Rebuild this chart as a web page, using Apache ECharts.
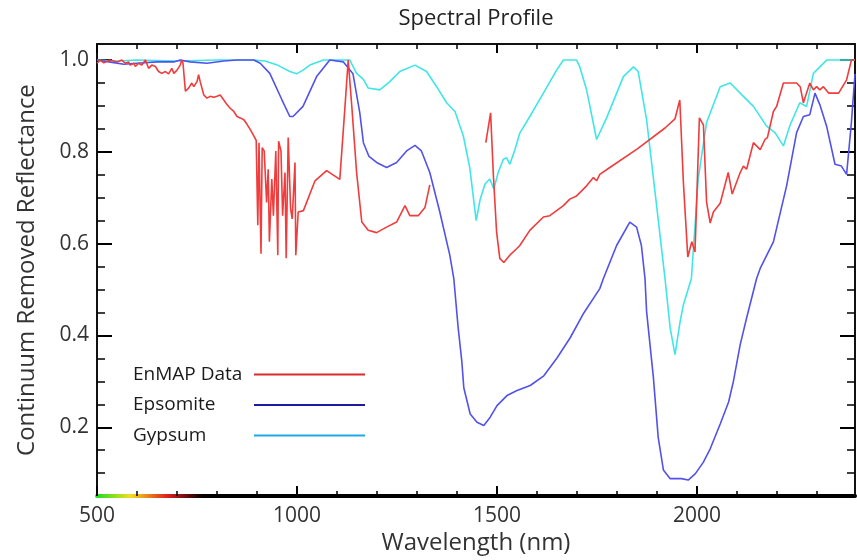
<!DOCTYPE html>
<html>
<head>
<meta charset="utf-8">
<script src="https://cdn.jsdelivr.net/npm/echarts@6/dist/echarts.min.js"></script>
<style>html,body{margin:0;padding:0;background:#fff}#c{width:857px;height:560px}</style>
</head>
<body>
<div id="c"></div>
<script>
// ---- data ----
const seriesNames = ['EnMAP Data', 'Epsomite', 'Gypsum'];

const enmapWl = [500,508,517,533,550,562,571,579,583,592,596,604,612,621,625,629,637,646,654,662,671,679,687,692,700,708,712,715,721,729,737,742,750,754,758,767,775,783,792,800,808,817,825,833,842,850,858,867,875,883,892,898,
  902,905,910,913,918,924,928,931,937,941,947,952,954,960,964,970,973,978,984,988,995,997,1003,1016,1045,1074,1090,1107,1120,1128,1137,1149,1162,1178,1199,1224,1249,1270,1282,1303,1320,1332,
  1400,
  1472,1484,1491,1499,1507,1517,1532,1549,1557,1582,1616,1632,1666,1682,1699,1724,1741,1749,1757,1782,1850,1920,1945,1957,1966,1977,1987,1995,2006,2016,2024,2033,2041,2058,2078,2088,2108,2116,2124,2141,2158,2170,2176,2191,2199,2216,2249,2258,2266,2282,2291,2299,2307,2316,2329,2354,2374,2386,2395];
const enmapVal = [0.993,1.0,0.994,1.0,0.996,1.0,0.993,0.996,0.989,0.993,0.986,0.993,0.989,1.0,1.0,0.982,0.989,0.986,0.975,0.971,0.975,0.970,0.982,0.971,0.978,0.989,1.0,0.993,0.932,0.939,0.950,0.942,0.953,0.968,0.953,0.924,0.917,0.921,0.919,0.921,0.924,0.913,0.903,0.895,0.888,0.877,0.874,0.870,0.860,0.849,0.835,0.825,
  0.640,0.820,0.578,0.809,0.802,0.690,0.762,0.604,0.741,0.661,0.802,0.575,0.823,0.802,0.661,0.755,0.568,0.831,0.676,0.654,0.777,0.575,0.669,0.672,0.737,0.759,0.750,0.740,0.899,1.0,0.899,0.755,0.647,0.629,0.624,0.636,0.647,0.683,0.661,0.661,0.679,0.728,
  null,
  0.820,0.885,0.748,0.625,0.568,0.559,0.575,0.589,0.596,0.629,0.658,0.661,0.683,0.697,0.704,0.726,0.744,0.737,0.751,0.766,0.806,0.852,0.872,0.913,0.733,0.571,0.604,0.582,0.874,0.859,0.690,0.645,0.669,0.688,0.755,0.708,0.755,0.769,0.762,0.820,0.805,0.827,0.831,0.888,0.899,0.950,0.950,0.942,0.907,0.950,0.935,0.942,0.935,0.942,0.928,0.928,0.957,1.0,1.0];

const epsomiteWl = [500,530,567,600,650,692,708,733,775,817,850,892,908,932,962,982,990,1015,1049,1082,1116,1140,1157,1166,1180,1199,1224,1249,1274,1295,1311,1332,1357,1382,1392,1403,1412,1417,1433,1450,1467,1483,1500,1525,1550,1583,1617,1650,1683,1717,1757,1766,1799,1832,1849,1861,1870,1874,1891,1903,1916,1933,1961,1978,1996,2016,2033,2058,2079,2091,2108,2124,2149,2158,2191,2224,2249,2266,2282,2295,2307,2324,2345,2361,2374,2386,2395];
const epsomiteVal = [1.0,0.996,0.991,0.993,0.996,0.996,1.0,0.996,0.993,0.998,1.0,1.0,0.993,0.971,0.914,0.877,0.877,0.899,0.964,1.0,0.996,0.970,0.885,0.820,0.790,0.777,0.766,0.777,0.802,0.814,0.802,0.755,0.669,0.575,0.524,0.416,0.344,0.286,0.229,0.211,0.204,0.222,0.247,0.269,0.280,0.291,0.312,0.351,0.395,0.449,0.502,0.524,0.596,0.647,0.636,0.596,0.524,0.452,0.308,0.178,0.107,0.088,0.088,0.085,0.099,0.124,0.153,0.207,0.255,0.300,0.380,0.438,0.524,0.546,0.604,0.726,0.842,0.877,0.881,0.928,0.903,0.856,0.773,0.769,0.751,0.864,0.970];

const gypsumWl = [500,550,600,700,800,892,920,949,982,999,1015,1032,1066,1132,1149,1166,1178,1207,1232,1257,1295,1324,1349,1374,1395,1416,1432,1448,1458,1470,1482,1492,1503,1516,1524,1532,1545,1557,1582,1616,1649,1666,1699,1707,1724,1749,1774,1816,1841,1853,1874,1899,1920,1933,1945,1958,1966,1986,2003,2024,2058,2083,2116,2141,2174,2195,2216,2233,2257,2274,2291,2324,2395];
const gypsumVal = [1.0,0.998,1.0,0.998,1.0,1.0,0.998,0.990,0.975,0.970,0.978,0.989,1.0,1.0,0.971,0.958,0.939,0.935,0.953,0.975,0.989,0.975,0.942,0.907,0.888,0.834,0.765,0.650,0.697,0.730,0.741,0.719,0.755,0.784,0.787,0.773,0.805,0.841,0.877,0.928,0.978,1.0,1.0,0.985,0.935,0.827,0.874,0.964,0.985,0.975,0.870,0.683,0.524,0.416,0.358,0.431,0.467,0.524,0.741,0.864,0.942,0.950,0.921,0.899,0.856,0.842,0.813,0.859,0.907,0.899,0.971,1.0,1.0];

const xTicks = [500, 1000, 1500, 2000];
const xMinorTicks = [600,700,800,900,1100,1200,1300,1400,1600,1700,1800,1900,2100,2200,2300];
const yTicks = [0.2, 0.4, 0.6, 0.8, 1.0];
const yMinorTicks = [0.1,0.15,0.25,0.3,0.35,0.45,0.5,0.55,0.65,0.7,0.75,0.85,0.9,0.95];

// ---- chart ----
const zip = (a, b) => a.map((v, i) => [v, b[i]]);
const X_MIN = 500, X_MAX = 2395, Y_MIN = 0.05, Y_MAX = 1.035;
const FONT = 'Open Sans';
const lineColors = ['#f03c3c', '#5252ea', '#40e6e6'];
const legendColors = ['#d92b2b', '#1c1c9c', '#1ea8e6'];

const chart = echarts.init(document.getElementById('c'), null, {renderer: 'canvas'});

const baseAxis = (extra) => Object.assign({
  type: 'value', splitLine: {show: false}, axisLabel: {show: false},
  axisLine: {show: false}, axisTick: {show: false}
}, extra);

const option = {
  backgroundColor: '#fff',
  animation: false,
  title: {
    text: 'Spectral Profile', left: 476, top: 8, padding: 0, textAlign: 'center',
    textStyle: {fontFamily: FONT, fontSize: 22, fontWeight: 'normal', color: '#222'}
  },
  grid: {left: 97, right: 2, top: 44, bottom: 61, containLabel: false},
  legend: {
    orient: 'vertical', left: 133, top: 365, align: 'right', padding: 0,
    icon: 'rect', itemWidth: 111, itemHeight: 2, itemGap: 11.5,
    formatter: n => '{a|' + n + '}',
    textStyle: {fontFamily: FONT, fontSize: 19, color: '#1a1a1a',
      rich: {a: {width: 116, align: 'left', fontFamily: FONT, fontSize: 19, lineHeight: 21, color: '#1a1a1a'}}},
    data: seriesNames.map((n, i) => ({name: n, itemStyle: {color: legendColors[i]}}))
  },
  xAxis: [
    baseAxis({
      min: X_MIN, max: X_MAX, position: 'bottom',
      name: 'Wavelength (nm)', nameLocation: 'middle', nameGap: 31,
      nameTextStyle: {fontFamily: FONT, fontSize: 24, color: '#333'},
      axisLine: {show: true, onZero: false, lineStyle: {width: 4, color: new echarts.graphic.LinearGradient(97, 0, 855, 0, [
        {offset: 0, color: '#22dd22'}, {offset: 0.044, color: '#f0e020'}, {offset: 0.092, color: '#e02020'}, {offset: 0.14, color: '#000'}, {offset: 1, color: '#000'}
      ], true)}},
      axisTick: {show: true, inside: true, length: 10, customValues: xTicks, lineStyle: {color: '#000', width: 2}},
      axisLabel: {show: true, customValues: xTicks, margin: 9, fontFamily: FONT, fontSize: 21, color: '#333',
        formatter: v => String(v)}
    }),
    baseAxis({min: X_MIN, max: X_MAX, position: 'bottom',
      axisTick: {show: true, inside: true, length: 5, customValues: xMinorTicks, lineStyle: {color: '#000', width: 1.5}}}),
    baseAxis({min: X_MIN, max: X_MAX, position: 'top',
      axisLine: {show: true, onZero: false, lineStyle: {color: '#111', width: 2}},
      axisTick: {show: true, inside: true, length: 9, customValues: xTicks, lineStyle: {color: '#000', width: 2}}}),
    baseAxis({min: X_MIN, max: X_MAX, position: 'top',
      axisTick: {show: true, inside: true, length: 5, customValues: xMinorTicks, lineStyle: {color: '#000', width: 1.5}}})
  ],
  yAxis: [
    baseAxis({
      min: Y_MIN, max: Y_MAX, position: 'left',
      name: 'Continuum Removed Reflectance', nameLocation: 'middle', nameGap: 58,
      nameTextStyle: {fontFamily: FONT, fontSize: 24, color: '#333'},
      axisLine: {show: true, onZero: false, lineStyle: {color: '#111', width: 2}},
      axisTick: {show: true, inside: true, length: 15, customValues: yTicks, lineStyle: {color: '#000', width: 2}},
      axisLabel: {show: true, customValues: yTicks, margin: 8, fontFamily: FONT, fontSize: 21, color: '#333',
        formatter: v => v.toFixed(1)}
    }),
    baseAxis({min: Y_MIN, max: Y_MAX, position: 'left',
      axisTick: {show: true, inside: true, length: 8, customValues: yMinorTicks, lineStyle: {color: '#000', width: 1.5}}}),
    baseAxis({min: Y_MIN, max: Y_MAX, position: 'right',
      axisLine: {show: true, onZero: false, lineStyle: {color: '#111', width: 2}},
      axisTick: {show: true, inside: true, length: 15, customValues: yTicks, lineStyle: {color: '#000', width: 2}}}),
    baseAxis({min: Y_MIN, max: Y_MAX, position: 'right',
      axisTick: {show: true, inside: true, length: 8, customValues: yMinorTicks, lineStyle: {color: '#000', width: 1.5}}})
  ],
  series: [
    {name: seriesNames[2], type: 'line', data: zip(gypsumWl, gypsumVal), color: lineColors[2]},
    {name: seriesNames[1], type: 'line', data: zip(epsomiteWl, epsomiteVal), color: lineColors[1]},
    {name: seriesNames[0], type: 'line', data: zip(enmapWl, enmapVal), color: lineColors[0]}
  ].map(s => Object.assign(s, {
    xAxisIndex: 0, yAxisIndex: 0, showSymbol: false, symbol: 'none', connectNulls: false,
    lineStyle: {width: 1.6, color: s.color}, emphasis: {disabled: true}, z: 3
  }))
};
chart.setOption(option);
</script>
</body>
</html>
